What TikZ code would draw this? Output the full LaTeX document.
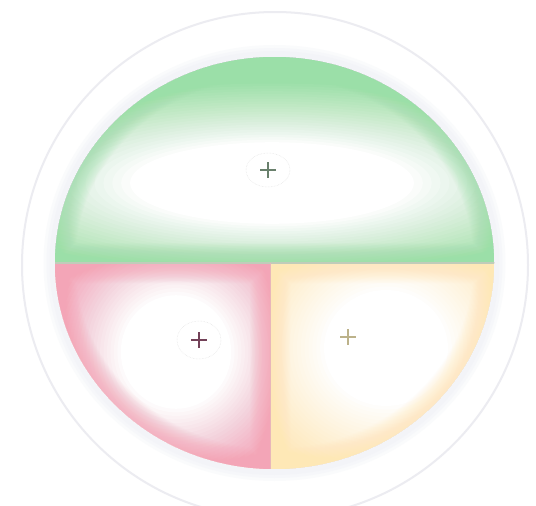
\documentclass[tikz,border=0pt]{standalone}
\usetikzlibrary{calc}
\definecolor{gr}{RGB}{155,223,168}
\definecolor{pk}{RGB}{243,165,183}
\definecolor{yl}{RGB}{254,232,182}
\definecolor{ringc}{RGB}{236,236,241}
\definecolor{glowc}{RGB}{232,235,242}
\definecolor{plusg}{RGB}{105,128,108}
\definecolor{plusp}{RGB}{115,65,88}
\definecolor{plusy}{RGB}{188,178,138}
\definecolor{divh}{RGB}{192,204,186}
\definecolor{divv}{RGB}{232,182,186}
\definecolor{haloc}{RGB}{225,225,225}
\tikzset{
  plusmark/.style={line width=2.6pt},
  ring/.style={draw=ringc, line width=2pt},
  halo/.style={draw=haloc, densely dotted, line width=0.5pt},
}
% white fade: whiteness ramps from 0 at the outer radius to 1 at 40% of it
\newcommand{\whitefade}[3]{%
  \foreach \i in {1,...,24}{%
    \pgfmathsetmacro{\op}{1/(25-\i)}%
    \pgfmathsetmacro{\rxx}{#2*(1-\i*0.6/24)}%
    \pgfmathsetmacro{\ryy}{#3*(1-\i*0.6/24)}%
    \fill[white, opacity=\op] (#1) ellipse [x radius=\rxx, y radius=\ryy];
  }%
}
% coloured rim glow along a boundary path (used inside a clip)
\newcommand{\rimglow}[2]{%
  \foreach \w in {2,4,...,40}{%
    \draw[#1, line width=\w pt, opacity=0.05] #2;
  }%
}
\def\greenpath{(494,263) arc [start angle=0, end angle=-180, x radius=219.5, y radius=206] -- cycle}
\def\pinkpath{(270,263) -- (55,263) arc [start angle=180, end angle=91.17, x radius=219.5, y radius=206] -- cycle}
\def\yellowpath{(270,263) -- (494,263) arc [start angle=0, end angle=91.17, x radius=219.5, y radius=206] -- cycle}
\begin{document}
\begin{tikzpicture}[x=1pt,y=-1pt]
\useasboundingbox (0,0) rectangle (536,506);
\fill[white] (0,0) rectangle (536,506);
% faint outer ring
\draw[ring] (275,265) circle [radius=253];
% faint glow
\foreach \w in {18,12,6}{
  \draw[glowc, line width=\w pt, opacity=0.2] (274.5,263) ellipse [x radius=222, y radius=209];
}
\coordinate (cg) at (272,183);
\coordinate (cp) at (176,352);
\coordinate (cy) at (386,348);
% green top
\begin{scope}
  \clip \greenpath;
  \fill[gr] (0,0) rectangle (536,263);
  \whitefade{cg}{355}{102}
  \rimglow{gr}{\greenpath}
\end{scope}
% pink bottom-left
\begin{scope}
  \clip \pinkpath;
  \fill[pk] (0,263) rectangle (270,506);
  \whitefade{cp}{138}{142}
  \rimglow{pk}{\pinkpath}
\end{scope}
% yellow bottom-right
\begin{scope}
  \clip \yellowpath;
  \fill[yl] (270,263) rectangle (536,506);
  \whitefade{cy}{155}{145}
  \rimglow{yl}{\yellowpath}
\end{scope}
% dividers
\coordinate (hl) at (55,263);
\coordinate (hr) at (494,263);
\coordinate (vt) at (270,263);
\coordinate (vb) at (270,469);
\draw[divh, line width=1.2pt] (hl) -- (hr);
\draw[divv, line width=1pt] (vt) -- (vb);
% plus marks with faint halos
\coordinate (pg) at (268,170);
\coordinate (pp) at (199,340);
\coordinate (py) at (348,337);
\draw[halo] (pg) ellipse [x radius=22, y radius=17];
\draw[halo] (pp) ellipse [x radius=22, y radius=19];
\draw[plusmark, plusg] ($(pg)+(-8,0)$) -- ($(pg)+(8,0)$) ($(pg)+(0,-8)$) -- ($(pg)+(0,8)$);
\draw[plusmark, plusp] ($(pp)+(-8,0)$) -- ($(pp)+(8,0)$) ($(pp)+(0,-8)$) -- ($(pp)+(0,8)$);
\draw[plusmark, plusy] ($(py)+(-8,0)$) -- ($(py)+(8,0)$) ($(py)+(0,-8)$) -- ($(py)+(0,8)$);
\end{tikzpicture}
\end{document}
